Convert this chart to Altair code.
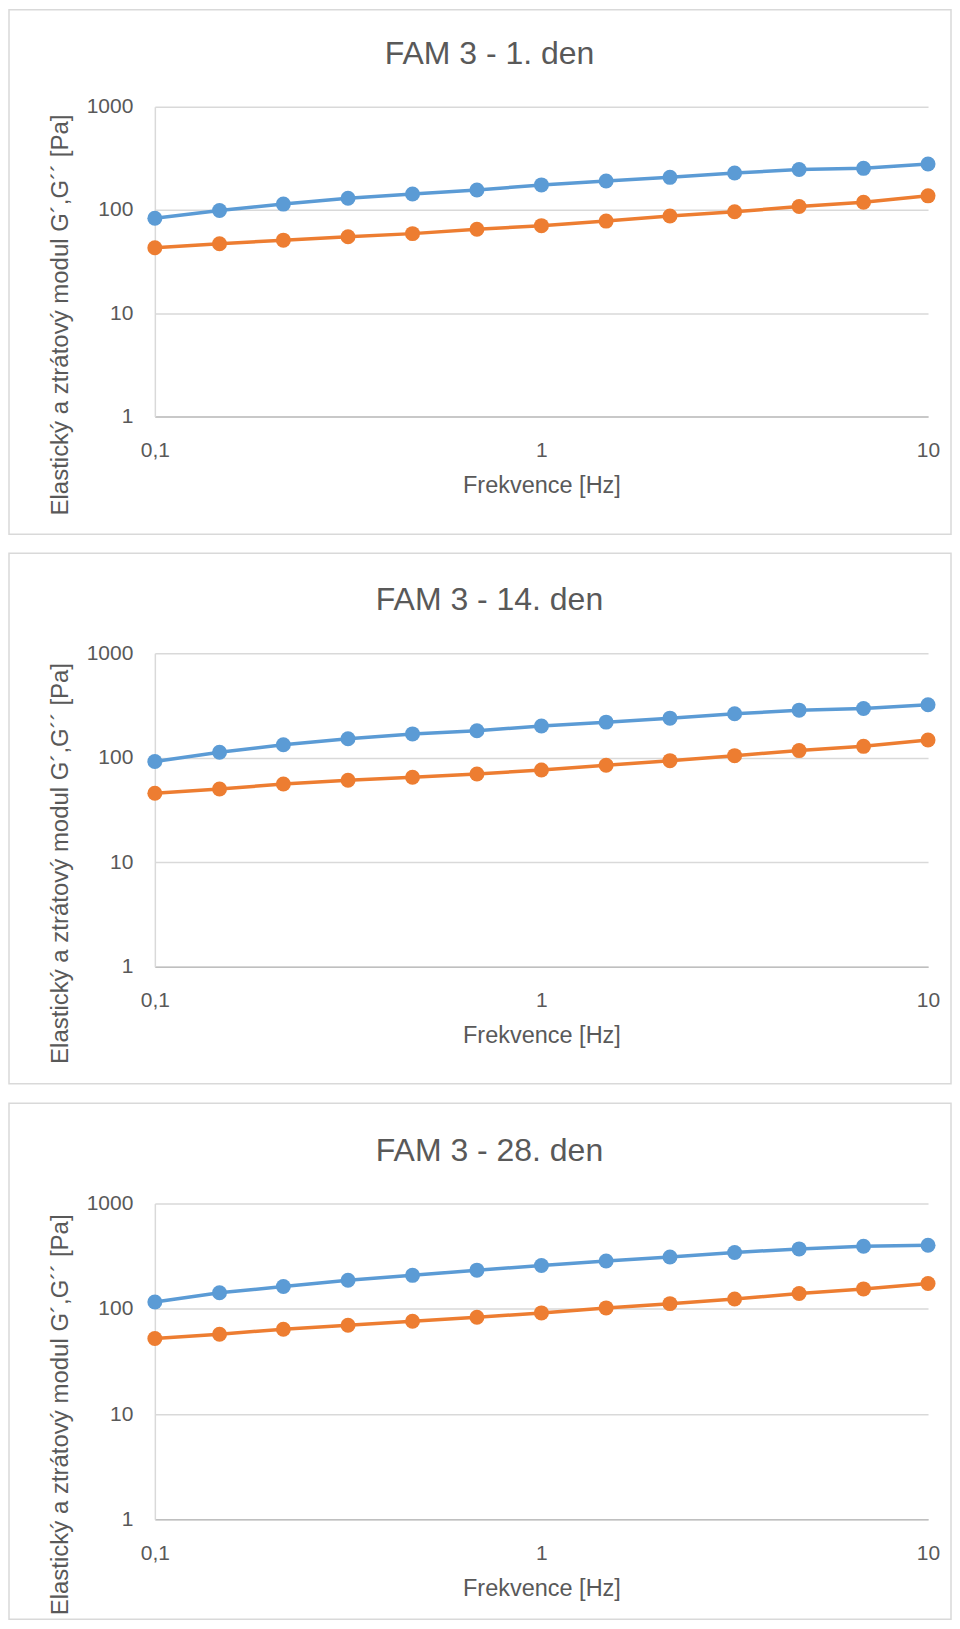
import altair as alt
import pandas as pd

# ---- data ----
freq = [0.1, 0.147, 0.215, 0.316, 0.464, 0.681, 1.0, 1.47, 2.15, 3.16, 4.64, 6.81, 10.0]
g_el_1 = [83, 99, 114, 130, 143, 156, 175, 191, 207, 228, 247, 253, 279]
g_ls_1 = [43, 47, 51, 55, 59, 65, 70.5, 78, 87.5, 96, 108, 119, 137]
g_el_14 = [92, 113, 133, 152, 169, 181, 201, 219, 239, 263, 285, 296, 321]
g_ls_14 = [45.7, 50.2, 56, 60.8, 65, 70, 76.3, 84.6, 93.8, 104.7, 117, 128.5, 147.6]
g_el_28 = [116, 142, 163, 187, 208, 233, 258, 285, 311, 343, 371, 393, 402]
g_ls_28 = [52.3, 57.4, 64, 69.8, 76.2, 83.2, 91.4, 102, 112, 124, 139.7, 154.6, 174]
titles = ["FAM 3 - 1. den", "FAM 3 - 14. den", "FAM 3 - 28. den"]
series_names = ["G´", "G´´"]
series_colors = ["#5B9BD5", "#ED7D31"]
x_ticks = [0.1, 1, 10]
y_ticks = [1, 10, 100, 1000]
x_title = "Frekvence [Hz]"
y_title = "Elastický a ztrátový modul G´,G´´ [Pa]"

FONT = "Liberation Sans"
TXT = "#595959"
W = 774


def panel(title, el, ls, h, top, bottom):
    n = len(freq)
    df = pd.DataFrame({
        "f": freq + freq,
        "v": el + ls,
        "s": [series_names[0]] * n + [series_names[1]] * n,
    })
    color = alt.Color("s:N", scale=alt.Scale(domain=series_names, range=series_colors), legend=None)
    x = alt.X(
        "f:Q",
        scale=alt.Scale(type="log", domain=[0.1, 10], nice=False),
        axis=alt.Axis(
            values=x_ticks,
            labelExpr="replace(toString(datum.value), '.', ',')",
            title=x_title,
            grid=False,
            ticks=False,
            labelFlush=False,
            labelOverlap=False,
            labelPadding=23,
            labelFontSize=21,
            labelFont=FONT,
            labelColor=TXT,
            titleFont=FONT,
            titleFontSize=23.5,
            titleFontWeight="normal",
            titleColor=TXT,
            titleBaseline="alphabetic",
            titleY=76,
            domainColor="#BFBFBF",
            domainWidth=1.5,
        ),
    )
    y = alt.Y(
        "v:Q",
        scale=alt.Scale(type="log", domain=[1, 1000], nice=False),
        axis=alt.Axis(
            values=y_ticks,
            format="d",
            title=y_title,
            grid=True,
            gridColor="#D9D9D9",
            gridWidth=1.5,
            ticks=False,
            labelPadding=22,
            labelFontSize=21,
            labelFont=FONT,
            labelColor=TXT,
            titleFont=FONT,
            titleFontSize=24,
            titleFontWeight="normal",
            titleColor=TXT,
            titleAngle=270,
            titleAlign="center",
            titleBaseline="alphabetic",
            titleX=-87,
            titleY=h / 2 + 53,
            domainColor="#D9D9D9",
            domainWidth=1.5,
        ),
    )
    one = pd.DataFrame({"k": [0]})
    border = alt.Chart(one).mark_rect(
        fill="white", fillOpacity=0, stroke="#D9D9D9", strokeWidth=1.5
    ).encode(
        x=alt.value(-146), x2=alt.value(797), y=alt.value(top), y2=alt.value(h + bottom)
    )
    head = alt.Chart(one).mark_text(
        font=FONT, fontSize=32, color=TXT, align="center", baseline="alphabetic"
    ).encode(
        x=alt.value(W / 2 - 52), y=alt.value(-43), text=alt.value(title)
    )
    line = alt.Chart(df).mark_line(strokeWidth=3.5).encode(x=x, y=y, color=color)
    pts = alt.Chart(df).mark_circle(size=225, opacity=1).encode(x=x, y=y, color=color)
    return alt.layer(border, head, line, pts).properties(width=W, height=h)


p1 = panel(titles[0], g_el_1, g_ls_1, 310, -97, 118)
p2 = panel(titles[1], g_el_14, g_ls_14, 314, -100, 117)
p3 = panel(titles[2], g_el_28, g_ls_28, 316, -100.5, 100)

chart = alt.vconcat(p1, p2, p3, spacing=17).properties(padding=0).configure_view(stroke=None)

chart.save("out.html", embed_options={"renderer": "svg", "actions": False})
